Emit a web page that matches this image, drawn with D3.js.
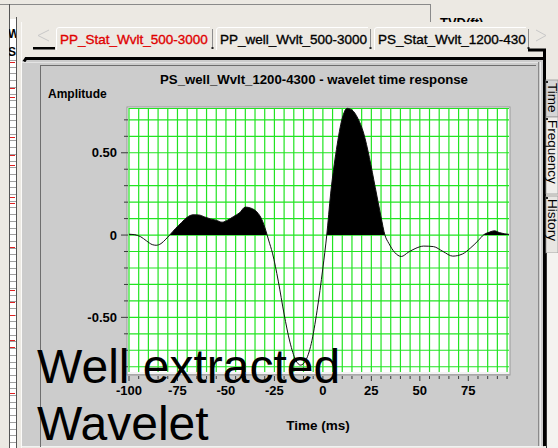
<!DOCTYPE html>
<html>
<head>
<meta charset="utf-8">
<script src="https://cdn.jsdelivr.net/npm/d3@7"></script>
<style>
  html, body { margin: 0; padding: 0; background: #ece9e3; }
  svg { display: block; font-family: "Liberation Sans", Arial, sans-serif; }
</style>
</head>
<body>
<svg id="chart" width="558" height="448"></svg>
<script>
// ---------------- data ----------------
const times = [-100, -97, -94, -91, -88, -86, -83.5, -81, -79, -76, -73, -70, -67, -64, -61, -58, -55, -52, -49, -46, -43, -40, -37, -34, -31.5, -29.5, -28, -26, -23, -20, -17, -14, -11.5, -9, -6, -3, 0, 2, 4, 7, 10, 12.5, 15, 18, 21, 24, 27, 30, 32, 34, 37, 40.5, 44, 48, 52, 57, 62, 67, 72, 76, 80, 83, 86, 88.5, 91, 96];
const amps = [0.005, 0.002, -0.01, -0.035, -0.058, -0.062, -0.052, -0.025, 0.0, 0.04, 0.075, 0.108, 0.123, 0.122, 0.11, 0.098, 0.09, 0.078, 0.092, 0.113, 0.135, 0.17, 0.163, 0.14, 0.095, 0.03, -0.03, -0.11, -0.28, -0.48, -0.65, -0.76, -0.79, -0.765, -0.66, -0.46, -0.2, 0.0, 0.25, 0.52, 0.71, 0.77, 0.76, 0.71, 0.62, 0.47, 0.29, 0.11, 0.0, -0.05, -0.105, -0.13, -0.105, -0.08, -0.067, -0.07, -0.1, -0.128, -0.115, -0.08, -0.035, 0.002, 0.018, 0.026, 0.015, 0.004];
const xDomain = [-100, 96];
const yDomain = [-0.832, 0.772];
const xTickValues = [-100, -75, -50, -25, 0, 25, 50, 75];
const yTickValues = [-0.5, 0, 0.5];
const yTickLabels = ["-0.50", "0", "0.50"];
const chartTitle = "PS_well_Wvlt_1200-4300 - wavelet time response";
const yLabel = "Amplitude";
const xLabel = "Time (ms)";
const tabLabels = ["PP_Stat_Wvlt_500-3000", "PP_well_Wvlt_500-3000", "PS_Stat_Wvlt_1200-430"];
const sideTabs = ["Time", "Frequency", "History"];
const overlayLines = ["Well extracted", "Wavelet"];
const logRedMarks = [62, 88, 97, 137, 155, 165, 197, 203, 247, 290, 302, 315, 340, 347, 393];

// ---------------- layout ----------------
const svg = d3.select("#chart");
const W = 558, H = 448;
const P = { left: 129, right: 509, top: 108, bottom: 372 };
const beige = "#ece9e3", panel = "#cccccc";

svg.append("rect").attr("width", W).attr("height", H).attr("fill", beige);

// background window fragments
svg.append("line").attr("x1", 0).attr("x2", 430).attr("y1", 4.5).attr("y2", 4.5).attr("stroke", "#8a8a8a");
svg.append("line").attr("x1", 430.5).attr("x2", 430.5).attr("y1", 4).attr("y2", 24).attr("stroke", "#8a8a8a");
svg.append("text").attr("x", 440).attr("y", 27).attr("font-size", 13).attr("font-weight", "bold").text("TVD(ft)");

// left log strip
svg.append("rect").attr("x", 10).attr("y", 19).attr("width", 6).attr("height", H - 19).attr("fill", "#fff");
svg.append("line").attr("x1", 9.5).attr("x2", 9.5).attr("y1", 4).attr("y2", H).attr("stroke", "#555");
svg.append("line").attr("x1", 16.5).attr("x2", 16.5).attr("y1", 17).attr("y2", H).attr("stroke", "#555");
svg.append("g").selectAll("line").data(d3.range(60, H, 6.7)).join("line")
  .attr("x1", 10).attr("x2", 16).attr("y1", d => Math.round(d) + 0.5).attr("y2", d => Math.round(d) + 0.5)
  .attr("stroke", "#a0a0a0");
svg.append("g").selectAll("line").data(logRedMarks).join("line")
  .attr("x1", 10).attr("x2", 15).attr("y1", d => d + 0.5).attr("y2", d => d + 0.5)
  .attr("stroke", "#e02020");
const clipL = svg.append("clipPath").attr("id", "clipL");
clipL.append("rect").attr("x", 9).attr("y", 0).attr("width", 7).attr("height", 60);
const lg = svg.append("g").attr("clip-path", "url(#clipL)");
lg.append("text").attr("x", 8).attr("y", 38).attr("font-size", 12).attr("font-weight", "bold").text("W");
lg.append("text").attr("x", 8).attr("y", 56).attr("font-size", 12).attr("font-weight", "bold").text("S");

// tab area
svg.append("rect").attr("x", 21).attr("y", 22).attr("width", W - 21).attr("height", H - 22).attr("fill", beige);
svg.append("line").attr("x1", 21.5).attr("x2", 21.5).attr("y1", 22).attr("y2", H).attr("stroke", "#fbfaf8");

// tabs
const tabX = [56, 216, 374];
const tabW = [157, 155, 155];
tabLabels.forEach((lab, i) => {
  const g = svg.append("g");
  const x = tabX[i], w = tabW[i];
  g.append("path").attr("d", `M${x + 0.5},50 L${x + 0.5},30 Q${x + 0.5},27.5 ${x + 3},27.5 L${x + w - 3},27.5`)
    .attr("fill", "none").attr("stroke", "#ffffff");
  g.append("line").attr("x1", x + w - 0.5).attr("x2", x + w - 0.5).attr("y1", 29).attr("y2", 49)
    .attr("stroke", "#8d8d8d");
  g.append("rect").attr("x", x + w - 1.5).attr("y", 47).attr("width", 2).attr("height", 2).attr("fill", "#222");
  g.append("text").attr("x", x + 4).attr("y", 44).attr("font-size", 13.5)
    .attr("fill", i === 0 ? "#e00000" : "#000")
    .attr("stroke", i === 0 ? "#e00000" : "#000").attr("stroke-width", 0.35).text(lab);
});
// tab scroll arrows
svg.append("path").attr("d", "M49,30 L38,35.5 L49,41").attr("fill", "none").attr("stroke", "#c8c8c8");
svg.append("path").attr("d", "M536,30 L546,35.5 L536,41").attr("fill", "none").attr("stroke", "#c8c8c8");
svg.append("rect").attr("x", 33).attr("y", 47).attr("width", 22).attr("height", 2.5).attr("fill", "#000");

// main panel
svg.append("rect").attr("x", 22).attr("y", 60).attr("width", 522).attr("height", 387).attr("fill", panel);
svg.append("line").attr("x1", 22).attr("x2", 543).attr("y1", 446.5).attr("y2", 446.5).attr("stroke", "#f2f2f2");
svg.append("path").attr("d", "M24,61.5 L26,58.5 L544,58.5").attr("fill", "none").attr("stroke", "#000").attr("stroke-width", 3);
svg.append("path").attr("d", "M528,50 L544.5,50 L544.5,446").attr("fill", "none").attr("stroke", "#000").attr("stroke-width", 3);
svg.append("line").attr("x1", 538.5).attr("x2", 538.5).attr("y1", 62).attr("y2", 446).attr("stroke", "#8a8a8a");
svg.append("line").attr("x1", 540.5).attr("x2", 540.5).attr("y1", 62).attr("y2", 446).attr("stroke", "#eeeeee");
svg.append("line").attr("x1", 22).attr("x2", 538).attr("y1", 62.5).attr("y2", 62.5).attr("stroke", "#e4e4e4");
// inner frame
svg.append("line").attr("x1", 40.5).attr("x2", 40.5).attr("y1", 65).attr("y2", 447).attr("stroke", "#6e6e6e");
svg.append("line").attr("x1", 40).attr("x2", 536).attr("y1", 65.5).attr("y2", 65.5).attr("stroke", "#6e6e6e");

// side tabs
const sideY = [80, 117, 196];
const sideH = [37, 77, 57];
const sideFill = ["#d6d6d6", "#efedea", "#e8e6e2"];
sideTabs.forEach((lab, i) => {
  svg.append("rect").attr("x", 546).attr("y", sideY[i]).attr("width", 12).attr("height", sideH[i])
    .attr("fill", sideFill[i]).attr("stroke", "#9a9a9a").attr("stroke-width", 0.8);
  svg.append("rect").attr("x", 546).attr("y", sideY[i] + 1).attr("width", 2).attr("height", 2).attr("fill", "#222");
  svg.append("text").attr("transform", `translate(547.5,${sideY[i] + 3}) rotate(90)`)
    .attr("font-size", 13.5).attr("fill", "#000").text(lab);
});
svg.append("rect").attr("x", 546).attr("y", 253).attr("width", 12).attr("height", H - 253).attr("fill", "#f4f3f0");
svg.append("line").attr("x1", 546.5).attr("x2", 546.5).attr("y1", 253).attr("y2", H).attr("stroke", "#333");

// ---------------- chart ----------------
const x = d3.scaleLinear().domain(xDomain).range([P.left, P.right]);
const y = d3.scaleLinear().domain(yDomain).range([P.bottom, P.top]);

svg.append("rect").attr("x", P.left - 2).attr("y", P.top - 1).attr("width", P.right - P.left + 3).attr("height", P.bottom - P.top + 4)
  .attr("fill", "#f4f4f4").attr("stroke", "#9a9a9a");
svg.append("rect").attr("x", P.left).attr("y", P.top).attr("width", P.right - P.left).attr("height", P.bottom - P.top)
  .attr("fill", "#ffffff");

const green = "#22e422";
const grid = svg.append("g");
grid.selectAll(".vx").data(d3.range(-100, 96, 5)).join("line")
  .attr("x1", d => x(d)).attr("x2", d => x(d)).attr("y1", P.top).attr("y2", P.bottom)
  .attr("stroke", green).attr("stroke-width", 1.2);
grid.selectAll(".hy").data(d3.range(-8, 8).map(d => d / 10)).join("line")
  .attr("x1", P.left).attr("x2", P.right).attr("y1", d => y(d)).attr("y2", d => y(d))
  .attr("stroke", green).attr("stroke-width", 1.2);
grid.append("line").attr("x1", P.left).attr("x2", P.right).attr("y1", P.top + 0.5).attr("y2", P.top + 0.5)
  .attr("stroke", green).attr("stroke-width", 1.2);

// wavelet
const pts = times.map((t, i) => [t, amps[i]]);
const clip = svg.append("clipPath").attr("id", "pos");
clip.append("rect").attr("x", P.left).attr("y", P.top - 2).attr("width", P.right - P.left).attr("height", y(0) - P.top + 2);
const curve = d3.curveMonotoneX;
const area = d3.area().x(d => x(d[0])).y0(y(0)).y1(d => y(d[1])).curve(curve);
const line = d3.line().x(d => x(d[0])).y(d => y(d[1])).curve(curve);
svg.append("path").datum(pts).attr("d", area).attr("fill", "#000").attr("clip-path", "url(#pos)");
svg.append("path").datum(pts).attr("d", line).attr("fill", "none").attr("stroke", "#111").attr("stroke-width", 1);

// axes
const axisColor = "#3a3a3a";
const yAxis = svg.append("g");
yAxis.selectAll("line").data(d3.range(-8, 8).map(d => d / 10)).join("line")
  .attr("x1", d => (Math.abs(Math.round(d * 10)) % 5 === 0 ? P.left - 8 : P.left - 5)).attr("x2", P.left - 1)
  .attr("y1", d => y(d)).attr("y2", d => y(d)).attr("stroke", axisColor);
yAxis.selectAll("text").data(yTickValues).join("text")
  .attr("x", 117).attr("y", d => y(d)).attr("dy", "0.36em").attr("text-anchor", "end")
  .attr("font-size", 13).attr("font-weight", "bold").text((d, i) => yTickLabels[i]);

const xAxis = svg.append("g");
xAxis.append("line").attr("x1", P.left - 2).attr("x2", P.right + 1).attr("y1", P.bottom + 2.5).attr("y2", P.bottom + 2.5).attr("stroke", "#a8a8a8");
xAxis.selectAll("line.t").data(d3.range(-100, 96, 5)).join("line")
  .attr("x1", d => x(d)).attr("x2", d => x(d)).attr("y1", P.bottom + 4)
  .attr("y2", d => (d % 25 === 0 ? P.bottom + 9 : P.bottom + 7)).attr("stroke", axisColor);
xAxis.selectAll("text").data(xTickValues).join("text")
  .attr("x", d => x(d)).attr("y", 395).attr("text-anchor", "middle")
  .attr("font-size", 13).attr("font-weight", "bold").text(d => d);

svg.append("text").attr("x", 314).attr("y", 83.5).attr("text-anchor", "middle")
  .attr("font-size", 13.2).attr("font-weight", "bold").text(chartTitle);
svg.append("text").attr("x", 48).attr("y", 98).attr("font-size", 12).attr("font-weight", "bold").text(yLabel);
svg.append("text").attr("x", 318).attr("y", 430).attr("text-anchor", "middle")
  .attr("font-size", 13.5).attr("font-weight", "bold").text(xLabel);

// overlay annotation
svg.append("text").attr("x", 37).attr("y", 383).attr("font-size", 48).attr("fill", "#000").text(overlayLines[0]);
svg.append("text").attr("x", 37).attr("y", 440).attr("font-size", 48).attr("fill", "#000").text(overlayLines[1]);
</script>
</body>
</html>
